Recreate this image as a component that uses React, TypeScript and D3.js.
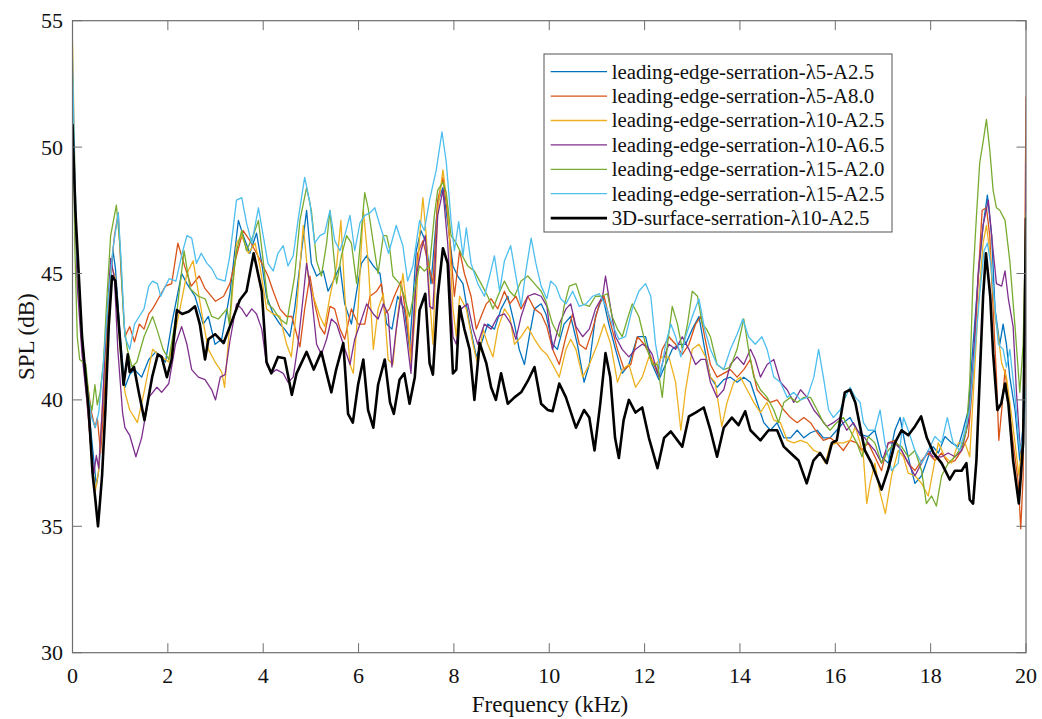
import React from "react";
import * as d3 from "d3";

const xTicks = [0, 2, 4, 6, 8, 10, 12, 14, 16, 18, 20];
const yTicks = [30, 35, 40, 45, 50, 55];

const seriesNames = [
  "leading-edge-serration-\u03bb5-A2.5",
  "leading-edge-serration-\u03bb5-A8.0",
  "leading-edge-serration-\u03bb10-A2.5",
  "leading-edge-serration-\u03bb10-A6.5",
  "leading-edge-serration-\u03bb15-A2.0",
  "leading-edge-serration-\u03bb15-A2.5",
  "3D-surface-serration-\u03bb10-A2.5",
];
const seriesColors = ["#0072BD", "#D95319", "#EDB120", "#7E2F8E", "#77AC30", "#4DBEEE", "#000000"];

type P = [number, number];

const blue: P[] = [[0,52.0],[0.05,48.0],[0.1,45.0],[0.2,42.5],[0.3,40.5],[0.4,38.5],[0.5,36.6],[0.55,37.2],[0.62,39.0],[0.7,42.0],[0.78,44.5],[0.85,45.9],[0.9,45.2],[1.0,42.5],[1.1,40.5],[1.2,41.0],[1.3,41.2],[1.45,40.9],[1.6,41.6],[1.75,41.9],[1.95,41.5],[2.08,43.0],[2.29,45.0],[2.4,44.6],[2.57,44.1],[2.74,43.0],[2.85,43.3],[2.99,42.2],[3.13,42.4],[3.3,44.2],[3.48,47.1],[3.58,46.5],[3.72,45.8],[3.86,46.6],[3.97,45.4],[4.07,44.1],[4.21,43.4],[4.35,43.0],[4.45,42.8],[4.56,42.5],[4.66,43.6],[4.8,45.8],[4.91,47.5],[5.01,45.4],[5.12,44.9],[5.26,45.1],[5.36,44.3],[5.47,44.7],[5.61,45.3],[5.71,43.8],[5.85,43.0],[5.96,44.3],[6.06,45.4],[6.17,45.7],[6.31,45.3],[6.45,45.0],[6.59,43.0],[6.7,42.8],[6.82,44.1],[6.96,43.6],[7.07,42.0],[7.21,45.9],[7.31,46.7],[7.42,46.2],[7.52,44.6],[7.66,47.8],[7.77,48.4],[7.87,47.0],[7.98,45.3],[8.08,44.9],[8.19,44.6],[8.33,43.0],[8.47,41.7],[8.57,42.2],[8.71,43.0],[8.85,42.8],[8.99,43.6],[9.13,44.1],[9.27,43.0],[9.37,42.0],[9.48,41.4],[9.58,42.5],[9.69,43.6],[9.83,43.8],[9.93,43.4],[10.07,42.2],[10.17,42.0],[10.31,43.0],[10.45,43.3],[10.59,42.2],[10.73,40.7],[10.84,41.4],[10.97,43.3],[11.12,44.1],[11.25,43.0],[11.39,42.0],[11.53,41.05],[11.67,41.4],[11.85,42.5],[12.02,42.5],[12.16,41.4],[12.3,40.8],[12.44,41.4],[12.58,42.0],[12.72,42.2],[12.86,42.2],[13.0,42.8],[13.14,43.3],[13.28,41.8],[13.38,40.9],[13.52,40.5],[13.66,40.8],[13.8,40.9],[13.94,40.7],[14.08,40.9],[14.22,40.7],[14.36,39.9],[14.5,39.1],[14.64,38.8],[14.78,39.1],[14.92,38.5],[15.06,38.5],[15.2,38.8],[15.34,38.5],[15.48,38.7],[15.62,38.8],[15.75,38.5],[15.89,38.5],[16.03,38.8],[16.17,39.1],[16.31,39.3],[16.45,38.8],[16.59,38.6],[16.69,38.55],[16.83,38.8],[16.97,37.75],[17.11,37.5],[17.25,38.8],[17.36,39.3],[17.46,38.3],[17.56,37.5],[17.67,36.7],[17.81,37.0],[17.95,37.75],[18.05,38.15],[18.16,37.9],[18.3,38.55],[18.44,38.3],[18.58,38.15],[18.68,38.8],[18.79,39.6],[18.89,42.2],[19.0,44.9],[19.1,46.9],[19.19,48.1],[19.28,46.5],[19.35,43.6],[19.45,42.2],[19.52,43.0],[19.59,42.2],[19.66,40.9],[19.77,39.6],[19.87,37.6],[19.94,39.0],[20,43.5]];

const orange: P[] = [[0,52.5],[0.05,48.5],[0.1,45.5],[0.2,42.0],[0.3,40.8],[0.4,39.5],[0.47,38.9],[0.52,39.3],[0.59,37.9],[0.65,39.5],[0.72,42.5],[0.8,45.0],[0.88,46.5],[0.96,47.4],[1.02,45.0],[1.1,42.5],[1.2,42.9],[1.3,42.3],[1.4,43.0],[1.5,42.8],[1.6,43.4],[1.68,43.6],[1.8,44.0],[1.95,44.5],[2.08,44.6],[2.21,46.2],[2.35,45.3],[2.49,44.5],[2.66,44.9],[2.78,44.4],[3.0,43.9],[3.17,44.1],[3.3,44.6],[3.44,45.7],[3.58,46.7],[3.72,46.3],[3.86,45.8],[4.0,45.3],[4.1,44.9],[4.21,44.3],[4.35,43.6],[4.49,43.3],[4.6,43.3],[4.66,42.9],[4.77,42.1],[4.87,43.6],[4.98,44.9],[5.08,43.8],[5.19,42.9],[5.29,42.6],[5.4,43.7],[5.5,43.6],[5.61,42.8],[5.71,42.4],[5.85,43.6],[5.99,43.0],[6.13,43.0],[6.24,44.1],[6.38,44.3],[6.48,44.6],[6.55,43.4],[6.65,43.6],[6.75,44.1],[6.89,44.7],[7.0,43.3],[7.1,41.7],[7.24,45.8],[7.35,46.3],[7.45,45.5],[7.56,44.6],[7.66,47.9],[7.77,48.8],[7.87,47.3],[8.01,44.1],[8.12,45.9],[8.22,45.0],[8.36,44.1],[8.47,42.8],[8.57,43.3],[8.68,43.8],[8.78,44.0],[8.92,43.6],[9.06,44.3],[9.17,43.8],[9.3,44.1],[9.41,43.6],[9.55,44.1],[9.69,43.6],[9.83,43.4],[9.95,42.9],[10.07,42.0],[10.21,41.4],[10.35,42.5],[10.49,43.4],[10.63,42.2],[10.77,42.0],[10.91,42.8],[11.05,43.8],[11.15,44.1],[11.29,43.0],[11.43,42.0],[11.57,41.2],[11.71,41.4],[11.85,42.5],[11.99,42.2],[12.13,41.7],[12.27,41.05],[12.37,42.0],[12.51,42.5],[12.65,42.2],[12.79,41.8],[12.93,42.2],[13.07,43.0],[13.18,43.3],[13.26,42.5],[13.38,41.4],[13.52,40.9],[13.66,41.05],[13.8,41.2],[13.94,40.9],[14.08,41.2],[14.22,41.6],[14.36,40.4],[14.5,40.1],[14.64,39.9],[14.78,40.0],[14.92,39.6],[15.06,39.3],[15.2,39.1],[15.34,39.3],[15.48,39.1],[15.62,38.7],[15.75,38.4],[15.89,38.5],[16.03,38.3],[16.17,38.0],[16.31,38.4],[16.45,38.3],[16.55,38.0],[16.69,38.3],[16.83,37.75],[16.97,37.2],[17.11,38.3],[17.25,38.4],[17.39,38.0],[17.53,37.5],[17.67,37.2],[17.81,37.6],[17.95,37.9],[18.09,37.6],[18.23,37.9],[18.37,37.5],[18.51,37.6],[18.65,38.0],[18.79,38.55],[18.89,40.9],[19.0,44.9],[19.08,47.5],[19.17,47.6],[19.24,46.5],[19.31,43.6],[19.38,40.9],[19.43,38.4],[19.49,39.6],[19.56,41.2],[19.63,39.9],[19.73,38.3],[19.84,36.7],[19.89,34.9],[19.94,37.0],[20,52.0]];

const yellow: P[] = [[0,54.2],[0.05,49.0],[0.1,45.0],[0.2,42.0],[0.3,40.0],[0.4,37.8],[0.48,36.4],[0.55,37.2],[0.62,39.5],[0.7,42.0],[0.78,44.5],[0.82,45.3],[0.9,44.8],[1.0,42.0],[1.1,40.3],[1.2,39.6],[1.3,39.3],[1.36,39.1],[1.5,40.3],[1.68,42.0],[1.8,41.8],[2.02,41.5],[2.19,43.0],[2.4,45.0],[2.53,45.5],[2.61,44.6],[2.75,43.0],[2.85,42.0],[2.99,41.5],[3.13,41.1],[3.19,40.5],[3.3,43.0],[3.44,46.2],[3.55,46.5],[3.69,45.8],[3.83,46.2],[3.93,45.3],[4.07,43.6],[4.21,43.4],[4.35,43.3],[4.49,42.2],[4.59,41.7],[4.7,43.6],[4.84,46.9],[4.94,44.9],[5.05,44.1],[5.19,43.3],[5.29,42.9],[5.4,44.1],[5.54,45.3],[5.63,47.1],[5.71,44.2],[5.82,41.4],[5.89,41.05],[5.99,43.6],[6.1,47.5],[6.2,45.5],[6.31,42.0],[6.41,43.6],[6.52,44.2],[6.62,41.6],[6.72,41.4],[6.82,43.3],[6.93,45.0],[7.03,43.3],[7.1,41.4],[7.21,43.8],[7.28,46.5],[7.35,48.0],[7.42,46.5],[7.49,44.1],[7.56,42.2],[7.66,47.5],[7.77,49.1],[7.87,47.6],[7.98,43.6],[8.05,42.5],[8.12,44.1],[8.26,43.6],[8.4,42.2],[8.5,41.4],[8.61,42.8],[8.71,42.2],[8.82,41.7],[8.92,42.8],[9.06,43.6],[9.17,43.3],[9.27,42.2],[9.41,42.5],[9.55,42.9],[9.69,42.4],[9.83,42.0],[9.95,41.8],[10.07,41.4],[10.21,40.9],[10.35,42.0],[10.45,42.4],[10.56,42.0],[10.7,40.9],[10.84,41.4],[11.01,42.2],[11.15,43.0],[11.29,42.2],[11.43,40.7],[11.53,41.2],[11.67,41.4],[11.81,40.5],[11.95,40.9],[12.09,41.7],[12.23,41.4],[12.37,41.7],[12.51,41.7],[12.65,40.7],[12.76,38.8],[12.86,40.4],[13.0,42.0],[13.14,42.2],[13.28,41.7],[13.38,40.9],[13.48,40.7],[13.62,38.95],[13.73,39.9],[13.87,40.7],[14.01,40.9],[14.15,40.4],[14.29,39.9],[14.43,39.5],[14.57,39.9],[14.71,39.2],[14.85,39.1],[14.99,38.4],[15.13,38.3],[15.27,38.4],[15.41,38.3],[15.55,38.0],[15.68,37.9],[15.79,37.5],[15.89,38.2],[16.03,38.3],[16.17,38.3],[16.31,38.4],[16.42,38.95],[16.52,38.3],[16.59,37.75],[16.66,35.9],[16.73,36.7],[16.83,37.5],[16.93,36.4],[17.05,35.5],[17.18,37.0],[17.32,38.0],[17.43,37.75],[17.53,37.1],[17.67,37.0],[17.81,36.7],[17.95,36.2],[18.05,37.2],[18.16,38.3],[18.3,37.75],[18.44,37.5],[18.58,38.3],[18.72,38.3],[18.82,37.75],[18.89,40.1],[19.0,43.8],[19.1,46.2],[19.17,46.9],[19.24,45.9],[19.35,43.3],[19.42,42.5],[19.49,41.45],[19.59,40.9],[19.66,39.9],[19.77,38.3],[19.85,37.0],[19.93,38.5],[20,41.5]];

const purple: P[] = [[0,52.0],[0.05,48.0],[0.1,44.5],[0.2,41.8],[0.3,40.0],[0.38,38.2],[0.45,37.1],[0.5,37.8],[0.55,37.3],[0.62,39.5],[0.7,42.5],[0.8,45.6],[0.88,44.8],[0.95,42.0],[1.05,39.5],[1.1,38.9],[1.2,38.6],[1.33,37.75],[1.45,38.5],[1.6,40.1],[1.77,40.5],[1.87,40.3],[2.02,40.65],[2.16,42.2],[2.29,42.9],[2.4,42.2],[2.5,41.2],[2.64,40.9],[2.78,40.8],[2.92,40.4],[3.0,40.0],[3.1,40.9],[3.2,41.0],[3.3,42.3],[3.44,43.8],[3.55,43.6],[3.65,43.3],[3.76,43.6],[3.86,43.4],[3.97,42.8],[4.07,41.4],[4.17,41.05],[4.28,41.2],[4.42,41.05],[4.52,40.7],[4.63,40.9],[4.73,42.2],[4.84,44.1],[4.91,45.4],[5.01,44.2],[5.12,42.2],[5.22,41.8],[5.33,42.4],[5.43,43.2],[5.54,43.0],[5.68,42.2],[5.82,41.4],[5.92,42.4],[6.03,43.0],[6.17,43.8],[6.31,43.4],[6.41,43.2],[6.52,43.8],[6.62,43.4],[6.7,41.3],[6.79,42.8],[6.89,44.1],[7.0,42.6],[7.1,41.05],[7.21,44.9],[7.31,45.9],[7.4,46.5],[7.49,43.7],[7.56,43.6],[7.66,47.3],[7.77,48.3],[7.87,46.2],[7.98,42.5],[8.05,42.2],[8.15,43.6],[8.29,43.8],[8.4,42.8],[8.5,42.2],[8.64,43.0],[8.78,42.8],[8.92,43.3],[9.06,43.4],[9.2,43.0],[9.3,42.4],[9.41,43.3],[9.55,44.1],[9.69,44.2],[9.83,44.1],[9.95,43.7],[10.07,42.0],[10.21,43.0],[10.35,43.6],[10.45,43.8],[10.56,42.9],[10.7,42.5],[10.84,42.8],[10.97,43.6],[11.12,44.1],[11.18,44.9],[11.29,43.6],[11.39,42.5],[11.53,42.0],[11.67,41.7],[11.81,42.0],[11.95,42.2],[12.06,42.1],[12.16,41.8],[12.3,40.9],[12.41,41.7],[12.51,42.2],[12.65,42.0],[12.79,42.5],[12.93,42.0],[13.07,41.4],[13.18,41.6],[13.28,41.6],[13.38,40.7],[13.52,40.1],[13.66,40.4],[13.8,41.4],[13.94,41.7],[14.08,41.4],[14.22,42.0],[14.32,41.6],[14.43,40.9],[14.57,41.4],[14.71,41.6],[14.85,40.7],[14.99,40.4],[15.13,39.9],[15.27,40.4],[15.41,40.1],[15.55,39.6],[15.68,39.3],[15.82,38.95],[15.96,39.1],[16.1,39.3],[16.24,38.8],[16.38,39.1],[16.52,38.6],[16.62,38.5],[16.69,38.3],[16.83,38.0],[16.97,37.5],[17.11,38.3],[17.25,38.3],[17.39,38.0],[17.53,37.5],[17.67,37.0],[17.81,37.5],[17.95,38.0],[18.05,37.75],[18.23,37.75],[18.37,37.9],[18.51,37.75],[18.65,38.0],[18.79,39.1],[18.89,41.45],[19.0,45.1],[19.1,46.9],[19.21,47.9],[19.31,45.9],[19.38,44.6],[19.49,44.5],[19.56,45.1],[19.63,44.0],[19.73,42.9],[19.8,40.3],[19.87,38.3],[19.92,37.75],[19.97,40.0],[20,49.4]];

const green: P[] = [[0,52.8],[0.05,46.0],[0.1,42.5],[0.15,41.6],[0.28,41.4],[0.35,40.0],[0.41,39.6],[0.47,40.6],[0.52,39.8],[0.58,40.3],[0.65,41.5],[0.72,44.0],[0.8,46.5],[0.92,47.7],[1.0,46.0],[1.08,43.0],[1.15,42.0],[1.25,41.3],[1.35,41.5],[1.5,42.5],[1.68,43.3],[1.77,42.8],[1.9,42.0],[2.02,41.6],[2.19,43.5],[2.34,45.9],[2.47,44.4],[2.64,44.1],[2.78,44.0],[2.92,43.3],[3.06,43.2],[3.24,43.6],[3.29,43.0],[3.35,44.5],[3.44,45.9],[3.55,46.7],[3.65,45.9],[3.79,46.5],[3.9,47.1],[4.0,45.5],[4.1,43.8],[4.21,43.6],[4.35,43.2],[4.49,43.0],[4.56,43.8],[4.66,44.9],[4.77,47.1],[4.91,48.4],[5.01,47.5],[5.12,45.5],[5.22,44.9],[5.33,46.2],[5.4,47.5],[5.47,45.9],[5.54,44.6],[5.64,45.7],[5.75,46.5],[5.85,46.2],[5.96,44.6],[6.06,46.7],[6.13,48.2],[6.2,47.6],[6.31,46.2],[6.41,45.0],[6.52,46.5],[6.59,46.5],[6.66,45.9],[6.72,44.9],[6.86,44.6],[6.96,44.1],[7.07,43.3],[7.17,44.3],[7.28,45.3],[7.38,45.1],[7.49,45.3],[7.59,47.3],[7.66,48.3],[7.77,48.6],[7.84,48.2],[7.94,46.5],[8.05,46.2],[8.15,45.8],[8.29,45.3],[8.43,45.1],[8.57,44.6],[8.71,44.1],[8.82,43.6],[8.92,44.1],[9.06,44.7],[9.17,44.3],[9.27,44.1],[9.41,44.7],[9.55,44.9],[9.69,44.6],[9.83,44.3],[9.93,43.9],[10.07,43.0],[10.21,42.5],[10.31,43.7],[10.42,44.5],[10.56,44.6],[10.7,43.8],[10.84,43.7],[10.97,44.1],[11.1,44.1],[11.22,44.2],[11.32,43.3],[11.43,42.8],[11.53,42.5],[11.64,43.2],[11.74,43.8],[11.88,43.3],[12.02,42.2],[12.16,41.4],[12.27,41.4],[12.37,40.1],[12.48,42.2],[12.58,43.7],[12.69,43.0],[12.79,42.0],[12.9,43.0],[13.0,44.3],[13.11,44.1],[13.21,43.0],[13.3,42.8],[13.38,42.5],[13.52,41.4],[13.66,41.2],[13.8,41.3],[13.94,42.0],[14.08,43.2],[14.18,42.0],[14.29,40.9],[14.43,40.4],[14.57,40.1],[14.71,39.6],[14.81,39.1],[14.92,39.9],[15.06,40.1],[15.2,39.9],[15.34,40.1],[15.48,40.1],[15.62,39.6],[15.75,39.1],[15.89,38.8],[16.03,39.1],[16.17,39.3],[16.31,38.8],[16.45,38.3],[16.56,37.75],[16.69,38.55],[16.83,38.3],[16.97,37.5],[17.11,38.0],[17.25,38.3],[17.39,38.15],[17.53,37.75],[17.67,38.0],[17.81,37.2],[17.91,35.9],[18.02,36.2],[18.12,35.8],[18.23,37.0],[18.37,37.5],[18.51,37.75],[18.65,38.15],[18.75,38.8],[18.82,40.7],[18.89,44.9],[18.96,47.25],[19.03,49.4],[19.1,50.2],[19.17,51.1],[19.24,49.9],[19.31,48.3],[19.38,47.6],[19.45,47.5],[19.56,47.1],[19.66,45.5],[19.77,42.9],[19.87,40.3],[19.94,42.2],[20,47.4]];

const cyan: P[] = [[0,53.5],[0.05,49.0],[0.1,45.5],[0.2,42.5],[0.3,40.5],[0.4,39.3],[0.48,38.9],[0.55,39.5],[0.65,41.5],[0.75,44.0],[0.85,46.0],[0.96,47.4],[1.02,45.5],[1.1,42.5],[1.2,42.0],[1.3,43.0],[1.4,43.3],[1.5,43.6],[1.6,44.5],[1.68,44.7],[1.78,44.6],[1.85,44.1],[1.95,44.5],[2.03,44.8],[2.17,44.7],[2.3,45.8],[2.4,46.5],[2.5,46.4],[2.6,45.4],[2.7,45.8],[2.82,45.4],[2.92,45.2],[3.03,44.8],[3.2,44.7],[3.3,45.7],[3.44,47.9],[3.55,48.0],[3.65,47.0],[3.76,46.2],[3.9,47.6],[4.0,46.5],[4.1,45.4],[4.21,45.1],[4.31,45.8],[4.42,46.1],[4.52,45.3],[4.63,45.7],[4.73,47.1],[4.87,48.8],[4.98,47.8],[5.08,46.2],[5.19,46.5],[5.29,46.6],[5.4,47.5],[5.5,46.3],[5.61,45.9],[5.71,46.5],[5.82,47.3],[5.92,45.9],[6.03,47.0],[6.13,47.3],[6.24,47.4],[6.34,47.6],[6.45,46.9],[6.55,46.3],[6.63,45.8],[6.79,46.9],[6.93,46.1],[7.03,44.7],[7.14,45.3],[7.28,47.1],[7.38,46.7],[7.49,47.9],[7.63,49.1],[7.75,50.6],[7.84,49.4],[7.94,47.1],[8.01,45.9],[8.1,47.05],[8.19,45.7],[8.26,46.8],[8.36,45.4],[8.5,44.6],[8.64,44.1],[8.75,44.9],[8.85,45.7],[8.96,44.3],[9.06,45.5],[9.19,46.1],[9.3,44.9],[9.41,43.7],[9.51,45.1],[9.62,46.4],[9.72,45.4],[9.83,44.5],[9.95,44.0],[10.03,44.7],[10.14,44.5],[10.24,44.0],[10.35,43.8],[10.49,44.3],[10.63,43.7],[10.77,43.8],[10.91,44.1],[11.05,44.2],[11.19,43.7],[11.32,43.0],[11.46,42.4],[11.6,42.5],[11.74,43.6],[11.88,44.3],[12.02,44.6],[12.13,44.1],[12.23,42.2],[12.34,41.05],[12.44,42.2],[12.55,43.0],[12.65,42.5],[12.76,41.7],[12.86,42.5],[13.0,43.3],[13.14,44.0],[13.26,42.8],[13.38,42.0],[13.52,41.4],[13.66,41.2],[13.8,42.0],[13.94,42.6],[14.06,43.2],[14.18,42.5],[14.32,42.2],[14.46,42.5],[14.57,42.0],[14.71,40.9],[14.85,40.7],[14.99,40.1],[15.13,40.3],[15.27,40.0],[15.41,40.1],[15.55,40.9],[15.65,42.0],[15.75,40.9],[15.86,39.6],[15.96,39.3],[16.1,39.6],[16.21,40.1],[16.31,40.5],[16.42,40.1],[16.52,39.9],[16.59,39.1],[16.69,38.8],[16.83,38.8],[16.94,39.6],[17.04,38.3],[17.18,37.2],[17.32,37.5],[17.43,39.3],[17.53,38.8],[17.67,38.0],[17.81,37.5],[17.95,38.0],[18.09,38.55],[18.23,38.3],[18.35,39.3],[18.47,38.3],[18.61,38.0],[18.72,38.8],[18.82,39.6],[18.93,42.0],[19.03,44.2],[19.12,45.9],[19.19,46.2],[19.28,45.1],[19.35,43.6],[19.42,42.2],[19.52,42.0],[19.59,41.3],[19.66,42.0],[19.77,40.1],[19.87,38.0],[19.94,38.5],[20,40.5]];

const black: P[] = [[0,50.9],[0.06,47.5],[0.2,42.5],[0.34,39.6],[0.42,37.1],[0.48,36.05],[0.535,35.0],[0.58,36.05],[0.62,37.0],[0.69,39.6],[0.76,42.9],[0.83,44.9],[0.9,44.7],[1.0,42.3],[1.07,40.6],[1.16,41.8],[1.2,41.1],[1.29,41.3],[1.39,40.3],[1.51,39.2],[1.67,40.9],[1.79,41.8],[1.87,41.7],[1.98,40.9],[2.08,41.6],[2.19,43.55],[2.3,43.4],[2.44,43.5],[2.57,43.7],[2.67,43.0],[2.78,41.6],[2.85,42.4],[2.99,42.6],[3.17,42.25],[3.3,42.9],[3.51,43.95],[3.65,44.3],[3.8,45.8],[3.97,44.3],[4.07,41.5],[4.17,41.05],[4.31,41.7],[4.45,41.65],[4.6,40.2],[4.7,41.05],[4.91,41.9],[5.06,41.2],[5.22,41.9],[5.33,41.05],[5.43,40.3],[5.53,41.2],[5.68,42.25],[5.78,39.45],[5.88,39.1],[5.99,40.6],[6.1,41.6],[6.2,39.6],[6.31,38.9],[6.41,40.6],[6.55,41.6],[6.66,39.9],[6.74,39.45],[6.86,40.8],[6.96,41.05],[7.07,39.85],[7.18,40.9],[7.28,43.55],[7.4,44.2],[7.49,41.45],[7.56,41.0],[7.66,44.1],[7.77,46.0],[7.87,45.4],[7.98,41.05],[8.05,41.2],[8.12,43.7],[8.22,42.8],[8.33,42.0],[8.43,40.0],[8.54,42.25],[8.68,41.45],[8.78,40.5],[8.88,40.0],[8.99,41.05],[9.13,39.85],[9.27,40.1],[9.41,40.3],[9.55,40.75],[9.69,41.3],[9.83,39.85],[9.97,39.6],[10.07,39.55],[10.21,40.65],[10.35,40.1],[10.56,38.9],[10.73,39.6],[10.84,39.3],[10.95,38.0],[11.07,39.85],[11.18,41.85],[11.28,40.9],[11.38,38.5],[11.46,37.7],[11.56,39.2],[11.67,40.0],[11.81,39.5],[11.95,39.7],[12.09,38.5],[12.27,37.3],[12.41,38.5],[12.55,38.75],[12.69,38.4],[12.79,38.15],[12.93,39.35],[13.07,39.5],[13.24,39.7],[13.38,38.8],[13.52,37.75],[13.66,38.9],[13.83,39.3],[13.97,39.0],[14.11,39.55],[14.22,38.8],[14.43,38.4],[14.6,38.8],[14.78,38.8],[14.92,38.15],[15.06,37.9],[15.23,37.6],[15.4,36.7],[15.54,37.6],[15.68,37.9],[15.82,37.5],[15.93,38.3],[16.03,38.4],[16.2,40.3],[16.31,40.4],[16.42,39.9],[16.53,38.85],[16.62,38.0],[16.76,37.5],[16.97,36.45],[17.11,37.25],[17.25,38.3],[17.39,38.8],[17.53,38.6],[17.67,38.95],[17.8,39.35],[17.92,38.5],[18.06,37.9],[18.23,37.5],[18.4,36.85],[18.51,37.2],[18.65,37.2],[18.75,37.5],[18.82,36.05],[18.89,35.9],[18.96,37.6],[19.03,40.9],[19.1,44.1],[19.16,45.8],[19.25,44.1],[19.31,41.85],[19.4,39.6],[19.48,39.85],[19.56,40.65],[19.63,39.85],[19.73,37.6],[19.85,35.9],[19.94,38.3],[20,47.2]];

const allSeries: P[][] = [blue, orange, yellow, purple, green, cyan, black];

const W = 1042;
const H = 719;
const m = { left: 72.5, right: 1026, top: 20.7, bottom: 652.7 };
const FONT = "'Liberation Serif', 'Times New Roman', serif";

export default function App() {
  const x = d3.scaleLinear().domain([0, 20]).range([m.left, m.right]);
  const y = d3.scaleLinear().domain([30, 55]).range([m.bottom, m.top]);
  const line = d3
    .line<P>()
    .x((d) => x(d[0]))
    .y((d) => y(d[1]));
  const axisColor = "#6e6e6e";
  const tick = 9.5;

  const legX = 544;
  const legY = 54;
  const legW = 348;
  const legH = 178;
  const rowY0 = 71.7;
  const rowDy = 24.4;

  return (
    <svg
      width={W}
      height={H}
      style={{ position: "absolute", left: 0, top: 0, background: "#fff" }}
      fontFamily={FONT}
    >
      <defs>
        <clipPath id="plotClip">
          <rect x={m.left} y={m.top} width={m.right - m.left} height={m.bottom - m.top} />
        </clipPath>
      </defs>
      <rect x={0} y={0} width={W} height={H} fill="#fff" />
      <g clipPath="url(#plotClip)">
        {allSeries.map((s, i) => (
          <path
            key={i}
            d={line(s) || ""}
            fill="none"
            stroke={seriesColors[i]}
            strokeWidth={i === 6 ? 2.6 : 1.3}
            strokeLinejoin="round"
          />
        ))}
      </g>
      <rect
        x={m.left}
        y={m.top}
        width={m.right - m.left}
        height={m.bottom - m.top}
        fill="none"
        stroke={axisColor}
        strokeWidth={1.2}
      />
      {xTicks.map((t) => (
        <g key={"x" + t}>
          <line x1={x(t)} x2={x(t)} y1={m.bottom} y2={m.bottom - tick} stroke={axisColor} strokeWidth={1} />
          <line x1={x(t)} x2={x(t)} y1={m.top} y2={m.top + tick} stroke={axisColor} strokeWidth={1} />
          <text x={x(t)} y={683} textAnchor="middle" fontSize={22} fill="#111">
            {t}
          </text>
        </g>
      ))}
      {yTicks.map((t) => (
        <g key={"y" + t}>
          <line x1={m.left} x2={m.left + tick} y1={y(t)} y2={y(t)} stroke={axisColor} strokeWidth={1} />
          <line x1={m.right} x2={m.right - tick} y1={y(t)} y2={y(t)} stroke={axisColor} strokeWidth={1} />
          <text x={63} y={y(t)} dy="0.34em" textAnchor="end" fontSize={22} fill="#111">
            {t}
          </text>
        </g>
      ))}
      <text x={550} y={712} textAnchor="middle" fontSize={23} fill="#111">
        Frequency (kHz)
      </text>
      <text
        transform={`translate(34, ${(m.top + m.bottom) / 2}) rotate(-90)`}
        textAnchor="middle"
        fontSize={23}
        fill="#111"
      >
        SPL (dB)
      </text>
      <rect x={legX} y={legY} width={legW} height={legH} fill="#fff" stroke="#555" strokeWidth={1} />
      {seriesNames.map((name, i) => (
        <g key={name}>
          <line
            x1={550.7}
            x2={607}
            y1={rowY0 + i * rowDy}
            y2={rowY0 + i * rowDy}
            stroke={seriesColors[i]}
            strokeWidth={i === 6 ? 2.6 : 1.3}
          />
          <text x={611.7} y={rowY0 + i * rowDy} dy="0.33em" fontSize={20.8} fill="#111">
            {name}
          </text>
        </g>
      ))}
    </svg>
  );
}
